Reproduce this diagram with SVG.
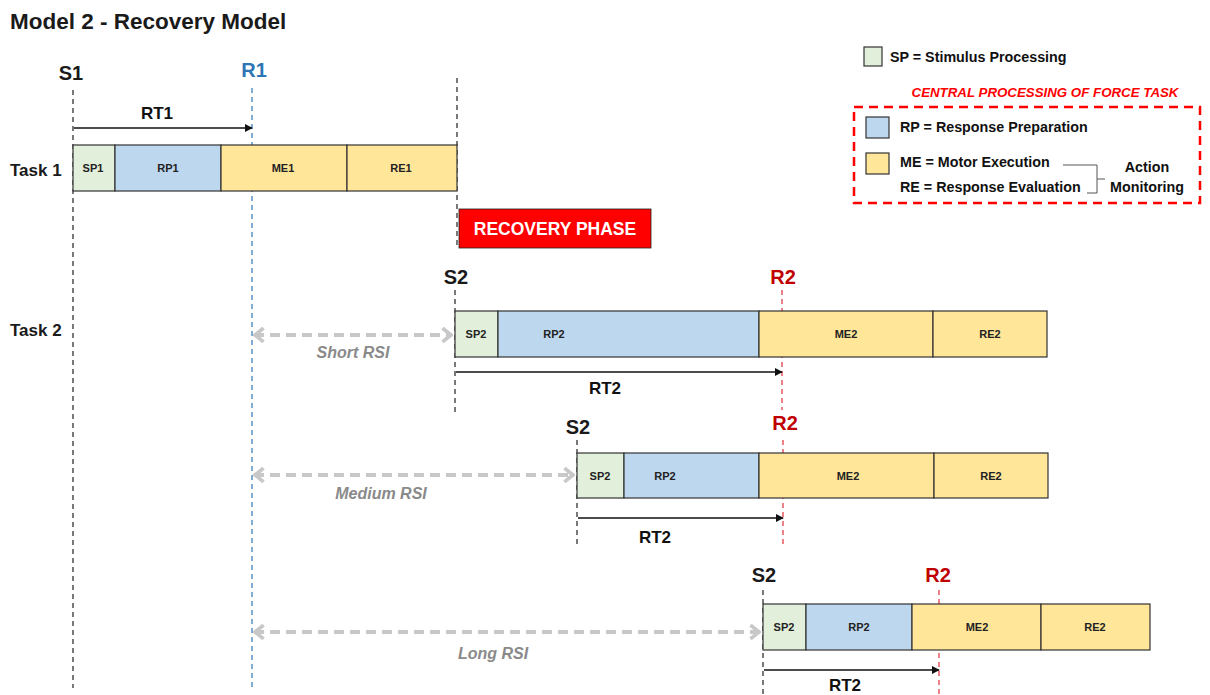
<svg xmlns="http://www.w3.org/2000/svg" width="1210" height="695" viewBox="0 0 1210 695">
<style>
text{font-family:"Liberation Sans",Arial,sans-serif;}
.title{font-size:22.5px;font-weight:bold;fill:#1a1a1a;}
.mark{font-size:20px;font-weight:bold;fill:#1a1a1a;text-anchor:middle;}
.r1{fill:#2E75B6;}
.r2{fill:#C00000;}
.task{font-size:17px;font-weight:bold;fill:#1a1a1a;}
.seg{font-size:11px;font-weight:bold;fill:#222;text-anchor:middle;}
.rt{font-size:17px;font-weight:bold;fill:#111;text-anchor:middle;}
.rsi{font-size:16px;font-weight:bold;font-style:italic;fill:#8a8a8a;text-anchor:middle;}
.leg{font-size:14.3px;fill:#111;font-weight:bold;}
.sp{fill:#E2EFDA;stroke:#333;stroke-width:1.2;}
.rp{fill:#BDD7EE;stroke:#333;stroke-width:1.2;}
.me{fill:#FFE699;stroke:#333;stroke-width:1.2;}
.vblk{stroke:#222;stroke-width:1.2;stroke-dasharray:5,4;fill:none;}
.vblu{stroke:#2E75B6;stroke-width:1.2;stroke-dasharray:5,4;fill:none;}
.vred{stroke:#E0303A;stroke-width:1.2;stroke-dasharray:5,4;fill:none;}
.rtl{stroke:#111;stroke-width:1.6;fill:none;marker-end:url(#tri);}
.rsil{stroke:#C8C8C8;stroke-width:4;stroke-dasharray:10,6;fill:none;marker-start:url(#chevS);marker-end:url(#chevE);}
</style>
<defs>
<marker id="tri" viewBox="0 0 10 10" refX="9" refY="5" markerWidth="8" markerHeight="8" markerUnits="userSpaceOnUse" orient="auto"><path d="M0,0 L10,5 L0,10 z" fill="#111"/></marker>
<marker id="chevE" viewBox="0 0 12 16" refX="11" refY="8" markerWidth="13" markerHeight="17" markerUnits="userSpaceOnUse" orient="auto"><path d="M2,1.5 L10,8 L2,14.5" fill="none" stroke="#C8C8C8" stroke-width="3.5"/></marker>
<marker id="chevS" viewBox="0 0 12 16" refX="1" refY="8" markerWidth="13" markerHeight="17" markerUnits="userSpaceOnUse" orient="auto"><path d="M10,1.5 L2,8 L10,14.5" fill="none" stroke="#C8C8C8" stroke-width="3.5"/></marker>
</defs>
<rect width="1210" height="695" fill="#fff"/>
<text class="title" x="10" y="29">Model 2 - Recovery Model</text>

<g id="guides">
<line class="vblk" x1="73" y1="90" x2="73" y2="688"/>
<line class="vblu" x1="252" y1="88" x2="252" y2="688"/>
<line class="vblk" x1="457" y1="78" x2="457" y2="248"/>
<line class="vblk" x1="455" y1="290" x2="455" y2="415"/>
<line class="vred" x1="782" y1="290" x2="782" y2="410"/>
<line class="vblk" x1="577" y1="440" x2="577" y2="548"/>
<line class="vred" x1="783" y1="440" x2="783" y2="548"/>
<line class="vblk" x1="763" y1="590" x2="763" y2="695"/>
<line class="vred" x1="939" y1="590" x2="939" y2="695"/>
</g>

<g id="labels">
<text class="mark" x="71" y="80">S1</text>
<text class="mark r1" x="254" y="77">R1</text>
<text class="mark" x="456" y="284">S2</text>
<text class="mark r2" x="783" y="284">R2</text>
<text class="mark" x="578" y="434">S2</text>
<text class="mark r2" x="785" y="430">R2</text>
<text class="mark" x="764" y="582">S2</text>
<text class="mark r2" x="938" y="582">R2</text>
<text class="task" x="10" y="176">Task 1</text>
<text class="task" x="10" y="336">Task 2</text>
</g>

<g id="task1">
<rect class="sp" x="73" y="145" width="42" height="46"/>
<rect class="rp" x="115" y="145" width="106" height="46"/>
<rect class="me" x="221" y="145" width="126" height="46"/>
<rect class="me" x="347" y="145" width="110" height="46"/>
<text class="seg" x="93" y="172">SP1</text>
<text class="seg" x="168" y="172">RP1</text>
<text class="seg" x="283" y="172">ME1</text>
<text class="seg" x="401" y="172">RE1</text>
</g>

<g id="recovery">
<rect x="459" y="209" width="192" height="39" fill="#FF0000" stroke="#222" stroke-width="0.8"/>
<text x="555" y="235" text-anchor="middle" font-size="17.5" font-weight="bold" fill="#fff">RECOVERY PHASE</text>
</g>

<g id="task2-short">
<rect class="sp" x="455" y="311" width="43" height="46"/>
<rect class="rp" x="498" y="311" width="261" height="46"/>
<rect class="me" x="759" y="311" width="174" height="46"/>
<rect class="me" x="933" y="311" width="114" height="46"/>
<text class="seg" x="476" y="338">SP2</text>
<text class="seg" x="554" y="338">RP2</text>
<text class="seg" x="846" y="338">ME2</text>
<text class="seg" x="990" y="338">RE2</text>
</g>

<g id="task2-medium">
<rect class="sp" x="577" y="453" width="47" height="45"/>
<rect class="rp" x="624" y="453" width="135" height="45"/>
<rect class="me" x="759" y="453" width="175" height="45"/>
<rect class="me" x="934" y="453" width="114" height="45"/>
<text class="seg" x="600" y="480">SP2</text>
<text class="seg" x="665" y="480">RP2</text>
<text class="seg" x="848" y="480">ME2</text>
<text class="seg" x="991" y="480">RE2</text>
</g>

<g id="task2-long">
<rect class="sp" x="763" y="604" width="43" height="46"/>
<rect class="rp" x="806" y="604" width="106" height="46"/>
<rect class="me" x="912" y="604" width="129" height="46"/>
<rect class="me" x="1041" y="604" width="109" height="46"/>
<text class="seg" x="784" y="631">SP2</text>
<text class="seg" x="859" y="631">RP2</text>
<text class="seg" x="977" y="631">ME2</text>
<text class="seg" x="1095" y="631">RE2</text>
</g>

<g id="connectors">
<line class="rtl" x1="74" y1="128" x2="252" y2="128"/>
<line class="rtl" x1="456" y1="372" x2="782" y2="372"/>
<line class="rtl" x1="578" y1="518" x2="783" y2="518"/>
<line class="rtl" x1="764" y1="670" x2="939" y2="670"/>
<line class="rsil" x1="254" y1="335" x2="452" y2="335"/>
<line class="rsil" x1="254" y1="475" x2="574" y2="475"/>
<line class="rsil" x1="254" y1="632" x2="760" y2="632"/>
</g>

<g id="connector-labels">
<text class="rt" x="157" y="119">RT1</text>
<text class="rt" x="605" y="394">RT2</text>
<text class="rt" x="655" y="543">RT2</text>
<text class="rt" x="845" y="691">RT2</text>
<text class="rsi" x="353" y="358">Short RSI</text>
<text class="rsi" x="381" y="499">Medium RSI</text>
<text class="rsi" x="493" y="659">Long RSI</text>
</g>

<g id="legend">
<rect class="sp" x="864" y="47" width="18" height="19"/>
<text class="leg" x="890" y="62">SP = Stimulus Processing</text>
<text x="1045" y="97" text-anchor="middle" font-size="13.3" font-weight="bold" font-style="italic" fill="#FF0000">CENTRAL PROCESSING OF FORCE TASK</text>
<rect x="854" y="107" width="346" height="96" fill="none" stroke="#FF0000" stroke-width="2.5" stroke-dasharray="9,6"/>
<rect class="rp" x="866" y="117" width="23" height="21"/>
<text class="leg" x="900" y="132">RP = Response Preparation</text>
<rect class="me" x="866" y="153" width="23" height="21"/>
<text class="leg" x="900" y="167">ME = Motor Execution</text>
<text class="leg" x="900" y="192">RE  = Response Evaluation</text>
<path d="M1063,165 H1097 V193 H1087 M1097,179 H1105" fill="none" stroke="#555" stroke-width="1"/>
<text class="leg" x="1147" y="172" text-anchor="middle">Action</text>
<text class="leg" x="1147" y="192" text-anchor="middle">Monitoring</text>
</g>
</svg>
